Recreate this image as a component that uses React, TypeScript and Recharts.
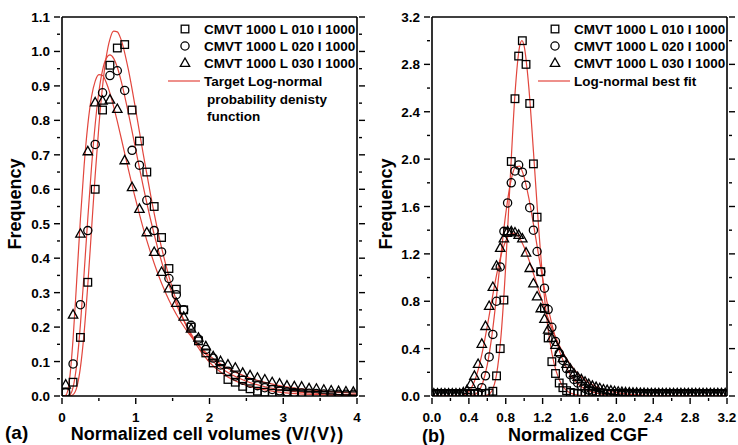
import React from 'react';
import { ComposedChart, Scatter, Line, XAxis, YAxis } from 'recharts';

// ---- panel (a): normalized cell volumes ----
const volX = [0.05, 0.15, 0.25, 0.35, 0.45, 0.55, 0.65, 0.75, 0.85, 0.95, 1.05, 1.15, 1.25, 1.35, 1.45, 1.55, 1.65, 1.75, 1.85, 1.95, 2.05, 2.15, 2.25, 2.35, 2.45, 2.55, 2.65, 2.75, 2.85, 2.95, 3.05, 3.15, 3.25, 3.35, 3.45, 3.55, 3.65, 3.75, 3.85, 3.95];
const volL010 = [0.01, 0.04, 0.17, 0.33, 0.6, 0.83, 0.96, 1.01, 1.02, 0.83, 0.74, 0.65, 0.55, 0.46, 0.37, 0.31, 0.25, 0.2, 0.16, 0.125, 0.096, 0.077, 0.048, 0.04, 0.028, 0.021, 0.014, 0.011, 0.008, 0.006, 0.005, 0.004, 0.003, 0.003, 0.002, 0.002, 0.001, 0.001, 0.001, 0.001];
const volL020 = [0.01, 0.093, 0.265, 0.48, 0.73, 0.88, 0.93, 0.944, 0.887, 0.713, 0.67, 0.568, 0.48, 0.418, 0.341, 0.294, 0.25, 0.205, 0.165, 0.135, 0.11, 0.09, 0.072, 0.058, 0.046, 0.037, 0.03, 0.024, 0.019, 0.015, 0.012, 0.01, 0.009, 0.008, 0.007, 0.006, 0.006, 0.005, 0.005, 0.005];
const volL030 = [0.033, 0.236, 0.471, 0.71, 0.852, 0.857, 0.86, 0.833, 0.684, 0.606, 0.543, 0.475, 0.418, 0.36, 0.312, 0.27, 0.23, 0.195, 0.169, 0.144, 0.115, 0.101, 0.091, 0.082, 0.067, 0.06, 0.053, 0.048, 0.04, 0.036, 0.03, 0.028, 0.027, 0.022, 0.021, 0.018, 0.016, 0.014, 0.013, 0.012];

const volFitX = [0, 0.05, 0.1, 0.15, 0.2, 0.25, 0.3, 0.35, 0.4, 0.45, 0.5, 0.55, 0.6, 0.65, 0.7, 0.75, 0.8, 0.9, 1.0, 1.1, 1.2, 1.3, 1.4, 1.5, 1.6, 1.8, 2.0, 2.2, 2.5, 3.0, 3.5, 4.0];
const volFit010 = [0, 0, 0.0001, 0.004, 0.025, 0.083, 0.184, 0.323, 0.482, 0.641, 0.783, 0.899, 0.984, 1.036, 1.059, 1.057, 1.035, 0.947, 0.83, 0.704, 0.585, 0.478, 0.387, 0.31, 0.248, 0.156, 0.098, 0.062, 0.031, 0.01, 0.004, 0.001];
const volFit020 = [0, 0, 0.002, 0.025, 0.092, 0.208, 0.357, 0.516, 0.664, 0.788, 0.883, 0.946, 0.98, 0.99, 0.98, 0.954, 0.916, 0.821, 0.715, 0.61, 0.513, 0.428, 0.355, 0.293, 0.241, 0.163, 0.11, 0.075, 0.043, 0.017, 0.007, 0.003];
const volFit030 = [0, 0.002, 0.044, 0.165, 0.337, 0.515, 0.669, 0.787, 0.868, 0.914, 0.933, 0.93, 0.91, 0.879, 0.84, 0.797, 0.751, 0.658, 0.569, 0.488, 0.417, 0.355, 0.302, 0.257, 0.219, 0.159, 0.117, 0.086, 0.056, 0.028, 0.015, 0.008];

const volXTicks = [0, 0.5, 1, 1.5, 2, 2.5, 3, 3.5, 4];
const volYTicks = [0, 0.05, 0.1, 0.15, 0.2, 0.25, 0.3, 0.35, 0.4, 0.45, 0.5, 0.55, 0.6, 0.65, 0.7, 0.75, 0.8, 0.85, 0.9, 0.95, 1.0, 1.05, 1.1];

// ---- panel (b): normalized CGF ----
const cgfX = [
  0.02, 0.06, 0.1, 0.14, 0.18, 0.22, 0.26, 0.3, 0.34, 0.38,
  0.42, 0.46, 0.5, 0.54, 0.58, 0.62, 0.66, 0.7, 0.74, 0.78,
  0.82, 0.86, 0.9, 0.94, 0.98, 1.02, 1.06, 1.1, 1.14, 1.18,
  1.22, 1.26, 1.3, 1.34, 1.38, 1.42, 1.46, 1.5, 1.54, 1.58,
  1.62, 1.66, 1.7, 1.74, 1.78, 1.82, 1.86, 1.9, 1.94, 1.98,
  2.02, 2.06, 2.1, 2.14, 2.18, 2.22, 2.26, 2.3, 2.34, 2.38,
  2.42, 2.46, 2.5, 2.54, 2.58, 2.62, 2.66, 2.7, 2.74, 2.78,
  2.82, 2.86, 2.9, 2.94, 2.98, 3.02, 3.06, 3.1, 3.14, 3.18,
];
const cgfL010 = [
  0.02, 0.02, 0.02, 0.02, 0.02, 0.02, 0.02, 0.02, 0.02, 0.02,
  0.02, 0.02, 0.02, 0.02, 0.02, 0.025, 0.04, 0.17, 0.4, 0.81,
  1.38, 1.98, 2.51, 2.87, 3.0, 2.8, 2.47, 1.96, 1.51, 1.05,
  0.74, 0.49, 0.29, 0.19, 0.11, 0.07, 0.045, 0.03, 0.025, 0.02,
  0.02, 0.02, 0.02, 0.02, 0.02, 0.02, 0.02, 0.02, 0.02, 0.02,
  0.02, 0.02, 0.02, 0.02, 0.02, 0.02, 0.02, 0.02, 0.02, 0.02,
  0.02, 0.02, 0.02, 0.02, 0.02, 0.02, 0.02, 0.02, 0.02, 0.02,
  0.02, 0.02, 0.02, 0.02, 0.02, 0.02, 0.02, 0.02, 0.02, 0.02,
];
const cgfL020 = [
  0.02, 0.02, 0.02, 0.02, 0.02, 0.02, 0.02, 0.02, 0.02, 0.02,
  0.02, 0.02, 0.03, 0.07, 0.17, 0.33, 0.52, 0.8, 1.09, 1.39,
  1.63, 1.8, 1.9, 1.95, 1.89, 1.78, 1.59, 1.4, 1.22, 1.05,
  0.91, 0.73, 0.58, 0.46, 0.36, 0.3, 0.23, 0.18, 0.14, 0.11,
  0.085, 0.065, 0.05, 0.04, 0.033, 0.028, 0.025, 0.022, 0.02, 0.02,
  0.02, 0.02, 0.02, 0.02, 0.02, 0.02, 0.02, 0.02, 0.02, 0.02,
  0.02, 0.02, 0.02, 0.02, 0.02, 0.02, 0.02, 0.02, 0.02, 0.02,
  0.02, 0.02, 0.02, 0.02, 0.02, 0.02, 0.02, 0.02, 0.02, 0.02,
];
const cgfL030 = [
  0.02, 0.02, 0.02, 0.02, 0.02, 0.02, 0.02, 0.02, 0.03, 0.05,
  0.1, 0.17, 0.27, 0.44, 0.59, 0.76, 0.92, 1.1, 1.25, 1.33,
  1.39, 1.39, 1.38, 1.36, 1.33, 1.21, 1.08, 0.95, 0.84, 0.74,
  0.65, 0.56, 0.49, 0.43, 0.37, 0.32, 0.27, 0.23, 0.19, 0.16,
  0.14, 0.12, 0.1, 0.085, 0.075, 0.065, 0.055, 0.05, 0.045, 0.04,
  0.036, 0.033, 0.03, 0.028, 0.027, 0.026, 0.025, 0.024, 0.022, 0.022,
  0.022, 0.022, 0.022, 0.022, 0.022, 0.022, 0.022, 0.022, 0.022, 0.022,
  0.022, 0.022, 0.022, 0.022, 0.022, 0.022, 0.022, 0.022, 0.022, 0.022,
];

const cgfFitX = [0, 0.3, 0.35, 0.4, 0.45, 0.5, 0.55, 0.6, 0.65, 0.7, 0.75, 0.8, 0.85, 0.9, 0.95, 0.975, 1.0, 1.05, 1.1, 1.15, 1.2, 1.25, 1.3, 1.35, 1.4, 1.5, 1.6, 1.7, 1.8, 2.0, 2.2, 2.5, 3.2];
const cgfFit010 = [0, 0, 0, 0, 0, 0, 0.001, 0.007, 0.045, 0.18, 0.52, 1.105, 1.856, 2.548, 2.949, 3.0, 2.951, 2.608, 2.07, 1.497, 0.998, 0.621, 0.363, 0.201, 0.106, 0.026, 0.006, 0.001, 0, 0, 0, 0, 0];
const cgfFit020 = [0, 0, 0, 0.001, 0.008, 0.035, 0.11, 0.264, 0.512, 0.841, 1.204, 1.54, 1.793, 1.928, 1.941, 1.905, 1.846, 1.672, 1.454, 1.219, 0.991, 0.784, 0.606, 0.459, 0.341, 0.181, 0.091, 0.044, 0.021, 0.004, 0.001, 0, 0];
const cgfFit030 = [0, 0.002, 0.01, 0.038, 0.103, 0.218, 0.385, 0.591, 0.812, 1.02, 1.191, 1.309, 1.37, 1.376, 1.334, 1.299, 1.256, 1.152, 1.035, 0.912, 0.791, 0.677, 0.572, 0.479, 0.397, 0.267, 0.175, 0.113, 0.072, 0.028, 0.011, 0.0025, 0];

const cgfTicks = [0, 0.2, 0.4, 0.6, 0.8, 1.0, 1.2, 1.4, 1.6, 1.8, 2.0, 2.2, 2.4, 2.6, 2.8, 3.0, 3.2];

const seriesNames = ['CMVT 1000 L 010 I 1000', 'CMVT 1000 L 020 I 1000', 'CMVT 1000 L 030 I 1000'];

const RED = '#e2463d';
const FONT = '"Liberation Sans", Arial, sans-serif';

const pts = (xs: number[], ys: number[]) => xs.map((x, i) => ({ x, y: ys[i] }));

const SquareMark = (p: any) => (
  <rect x={p.cx - 3.8} y={p.cy - 3.8} width={7.6} height={7.6} fill="none" stroke="#000" strokeWidth={1.3} />
);
const CircleMark = (p: any) => <circle cx={p.cx} cy={p.cy} r={4.1} fill="none" stroke="#000" strokeWidth={1.3} />;
const TriangleMark = (p: any) => (
  <path
    d={`M${p.cx},${p.cy - 5}L${p.cx + 4.7},${p.cy + 3.4}L${p.cx - 4.7},${p.cy + 3.4}Z`}
    fill="none"
    stroke="#000"
    strokeWidth={1.3}
  />
);

const isStep = (v: number, step: number) => Math.abs(v / step - Math.round(v / step)) < 1e-6;

// draws tick marks (long for major, short for minor) and labels for majors
const makeTick = (side: string, step: number, fmt?: (v: number) => string) => (props: any) => {
  const { x, y, payload } = props;
  const v = payload.value;
  const major = isStep(v, step);
  const len = major ? 6 : 3;
  const lineStyle = { stroke: '#000', strokeWidth: 1.4 };
  if (side === 'bottom') {
    return (
      <g>
        <line x1={x} y1={y} x2={x} y2={y + len} {...lineStyle} />
        {major && fmt && (
          <text x={x} y={y + 24} textAnchor="middle" fontFamily={FONT} fontWeight="bold" fontSize={13.5} fill="#000">
            {fmt(v)}
          </text>
        )}
      </g>
    );
  }
  if (side === 'left') {
    return (
      <g>
        <line x1={x} y1={y} x2={x - len} y2={y} {...lineStyle} />
        {major && fmt && (
          <text x={x - 10} y={y + 5} textAnchor="end" fontFamily={FONT} fontWeight="bold" fontSize={13.5} fill="#000">
            {fmt(v)}
          </text>
        )}
      </g>
    );
  }
  if (side === 'top') {
    return <line x1={x} y1={y} x2={x} y2={y - len} {...lineStyle} />;
  }
  return <line x1={x} y1={y} x2={x + len} y2={y} {...lineStyle} />;
};

const axisLine = { stroke: '#000', strokeWidth: 1.6 };

interface PanelProps {
  xMax: number;
  yMax: number;
  xTicks: number[];
  yTicks: number[];
  xStep: number;
  yStep: number;
  xFmt: (v: number) => string;
  leftWidth: number;
  rightMargin: number;
  dataX: number[];
  data: number[][];
  fitX: number[];
  fits: number[][];
}

const Panel: React.FC<PanelProps> = (p) => {
  const marks = [SquareMark, CircleMark, TriangleMark];
  return (
    <ComposedChart width={369} height={445} margin={{ top: 16, right: p.rightMargin, bottom: 0, left: 0 }}>
      <XAxis
        xAxisId="b"
        dataKey="x"
        type="number"
        domain={[0, p.xMax]}
        ticks={p.xTicks}
        interval={0}
        allowDataOverflow
        height={49}
        tickSize={0}
        tickLine={false}
        axisLine={axisLine}
        tick={makeTick('bottom', p.xStep, p.xFmt)}
      />
      <XAxis
        xAxisId="t"
        orientation="top"
        type="number"
        domain={[0, p.xMax]}
        ticks={p.xTicks}
        interval={0}
        allowDataOverflow
        height={1}
        tickSize={0}
        tickLine={false}
        axisLine={axisLine}
        tick={makeTick('top', p.xStep)}
      />
      <YAxis
        yAxisId="l"
        dataKey="y"
        type="number"
        domain={[0, p.yMax]}
        ticks={p.yTicks}
        interval={0}
        allowDataOverflow
        width={p.leftWidth}
        tickSize={0}
        tickLine={false}
        axisLine={axisLine}
        tick={makeTick('left', p.yStep, (v) => v.toFixed(1))}
      />
      <YAxis
        yAxisId="r"
        orientation="right"
        type="number"
        domain={[0, p.yMax]}
        ticks={p.yTicks}
        interval={0}
        allowDataOverflow
        width={1}
        tickSize={0}
        tickLine={false}
        axisLine={axisLine}
        tick={makeTick('right', p.yStep)}
      />
      {p.data.map((ys, i) => (
        <Scatter
          key={'s' + i}
          xAxisId="b"
          yAxisId="l"
          dataKey="y"
          data={pts(p.dataX, ys)}
          shape={marks[i]}
          isAnimationActive={false}
        />
      ))}
      {p.fits.map((ys, i) => (
        <Line
          key={'f' + i}
          xAxisId="b"
          yAxisId="l"
          dataKey="y"
          data={pts(p.fitX, ys)}
          type="monotone"
          stroke={RED}
          strokeWidth={1.2}
          dot={false}
          activeDot={false}
          isAnimationActive={false}
        />
      ))}
    </ComposedChart>
  );
};

const Legend: React.FC<{ x: number; fitLines: string[] }> = ({ x, fitLines }) => {
  const rows = [29, 46, 63];
  const txt = { fontFamily: FONT, fontWeight: 'bold' as const, fontSize: 13.5, fill: '#000' };
  return (
    <g>
      <SquareMark cx={x} cy={rows[0]} />
      <CircleMark cx={x} cy={rows[1]} />
      <TriangleMark cx={x} cy={rows[2]} />
      {seriesNames.map((s, i) => (
        <text key={s} x={x + 19} y={rows[i] + 5} {...txt}>
          {s}
        </text>
      ))}
      <line x1={x - 17} y1={81} x2={x + 15} y2={81} stroke={RED} strokeWidth={1.2} />
      {fitLines.map((s, i) => (
        <text key={s} x={x + 19 + (i > 0 ? 3 : 0)} y={81 + 5 + i * 17.5} {...txt}>
          {s}
        </text>
      ))}
    </g>
  );
};

export default function App() {
  const title = { fontFamily: FONT, fontWeight: 'bold' as const, fontSize: 18, fill: '#000' };
  const bracket = { fontFamily: '"DejaVu Sans", sans-serif' };
  return (
    <div style={{ position: 'absolute', left: 0, top: 0, width: 738, height: 445, background: '#fff' }}>
      <div style={{ position: 'absolute', left: 0, top: 0 }}>
        <Panel
          xMax={4}
          yMax={1.1}
          xTicks={volXTicks}
          yTicks={volYTicks}
          xStep={1}
          yStep={0.1}
          xFmt={(v) => String(v)}
          leftWidth={62}
          rightMargin={11}
          dataX={volX}
          data={[volL010, volL020, volL030]}
          fitX={volFitX}
          fits={[volFit010, volFit020, volFit030]}
        />
      </div>
      <div style={{ position: 'absolute', left: 369, top: 0 }}>
        <Panel
          xMax={3.2}
          yMax={3.2}
          xTicks={cgfTicks}
          yTicks={cgfTicks}
          xStep={0.4}
          yStep={0.4}
          xFmt={(v) => v.toFixed(1)}
          leftWidth={63}
          rightMargin={10}
          dataX={cgfX}
          data={[cgfL010, cgfL020, cgfL030]}
          fitX={cgfFitX}
          fits={[cgfFit010, cgfFit020, cgfFit030]}
        />
      </div>
      <svg width={738} height={445} style={{ position: 'absolute', left: 0, top: 0, pointerEvents: 'none' }}>
        <Legend x={185} fitLines={['Target Log-normal', 'probability denisty', 'function']} />
        <Legend x={555} fitLines={['Log-normal best fit']} />
        <text transform="translate(21,204) rotate(-90)" textAnchor="middle" {...title}>
          Frequency
        </text>
        <text transform="translate(392,204) rotate(-90)" textAnchor="middle" {...title}>
          Frequency
        </text>
        <text x={207} y={440} textAnchor="middle" {...title}>
          Normalized cell volumes (V/<tspan {...bracket}>⟨</tspan>V<tspan {...bracket}>⟩</tspan>)
        </text>
        <text x={578} y={441} textAnchor="middle" {...title}>
          Normalized CGF
        </text>
        <text x={5} y={439} {...title} fontSize={19}>
          (a)
        </text>
        <text x={422} y={442} {...title} fontSize={18}>
          (b)
        </text>
      </svg>
    </div>
  );
}
